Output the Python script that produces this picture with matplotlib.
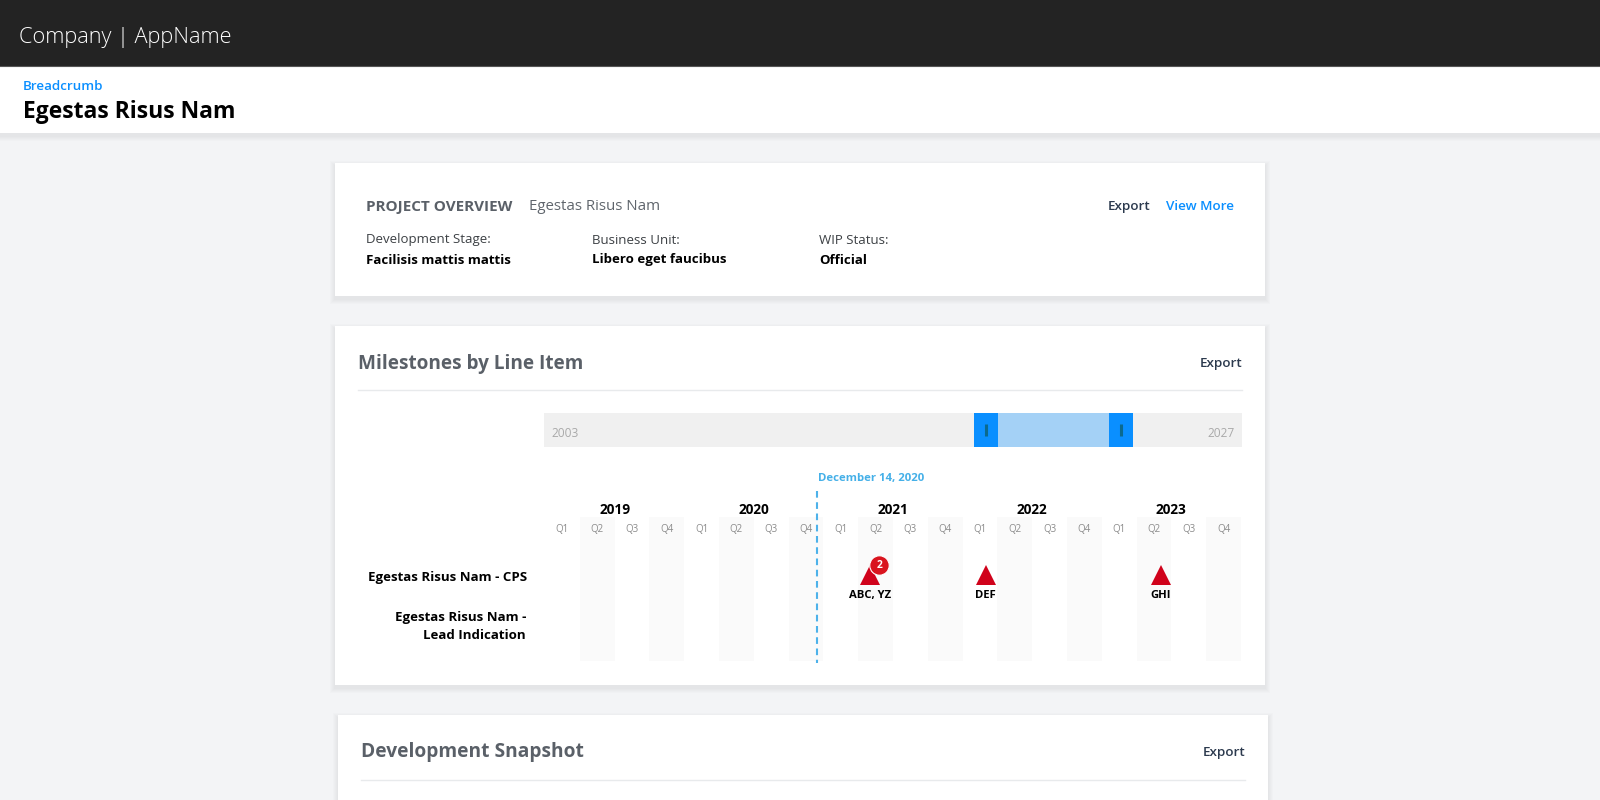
import matplotlib
matplotlib.use('Agg')
import matplotlib.pyplot as plt
from matplotlib.patches import Rectangle

plt.rcParams['font.family'] = ['Open Sans', 'DejaVu Sans']

# data
years = [2019, 2020, 2021, 2022, 2023]
quarters = ['Q1', 'Q2', 'Q3', 'Q4']
today_label = 'December 14, 2020'
today_pos = 7.82  # in quarters from start of 2019
range_start, range_end = 2003, 2027
sel_start, sel_end = 2018.2, 2022.83
milestone_pos = [9.33, 12.66, 17.7]
milestone_names = ['ABC, YZ', 'DEF', 'GHI']
milestone_counts = [2, 1, 1]
overview_labels = ['Development Stage:', 'Business Unit:', 'WIP Status:']
overview_values = ['Facilisis mattis mattis', 'Libero eget faucibus', 'Official']

W, H = 1600, 800
fig = plt.figure(figsize=(16, 8), dpi=100, facecolor='#F3F4F6')


def add_px_axes(x0, y0, x1, y1):
    return fig.add_axes([x0 / W, 1 - y1 / H, (x1 - x0) / W, (y1 - y0) / H])


ax = add_px_axes(0, 0, W, H)
ax.set_xlim(0, W)
ax.set_ylim(H, 0)
ax.axis('off')


def card(x0, y0, x1, y1, spread=5):
    # soft shadow, then the white box
    for i in range(spread, 0, -1):
        ax.add_patch(Rectangle((x0 - i, y0 - i + 3), x1 - x0 + 2 * i, y1 - y0 + 2 * i,
                               fc='black', ec='none', alpha=0.012, zorder=1))
    ax.add_patch(Rectangle((x0, y0), x1 - x0, y1 - y0, fc='white', ec='none', zorder=1))


def txt(x, y, s, size, color='black', weight='normal', ha='left'):
    ax.text(x, y + 1.5, s, fontsize=size, color=color, fontweight=weight, ha=ha, va='center', zorder=5)


# header
card(0, 60, W, 133)
ax.add_patch(Rectangle((0, 0), W, 66, fc='#232323', ec='none', zorder=2))
ax.plot([0, W], [66, 66], color='#555555', lw=0.8, zorder=3)
txt(19, 35.5, 'Company | AppName', 15.65, 'white', 'light')
txt(23, 84.5, 'Breadcrumb', 9.6, '#0A8FFF', 'semibold')
txt(23, 111, 'Egestas Risus Nam', 16.45, 'black', 'bold')

# project overview
card(335, 163, 1265, 296)
txt(366, 205, 'PROJECT OVERVIEW', 10.95, '#5A6068', 'bold')
txt(529, 205.5, 'Egestas Risus Nam', 10.85, '#5F656C')
txt(1150, 205, 'Export', 9.7, '#2C3A4E', 'semibold', 'right')
txt(1234, 205, 'View More', 9.7, '#0A8FFF', 'semibold', 'right')
for x, lab, val in zip([366, 592.5, 819], overview_labels, overview_values):
    txt(x, 238.5, lab, 9.55, '#3C4044')
    txt(x, 258.5, val, 9.5, 'black', 'bold')

# milestones card
card(335, 326, 1265, 685)
txt(358, 362, 'Milestones by Line Item', 13.65, '#5A6068', 'bold')
txt(1242, 362, 'Export', 9.7, '#2C3A4E', 'semibold', 'right')
ax.plot([358, 1242], [390, 390], color='#E8EAEC', lw=1, zorder=3)
txt(527.5, 575.5, 'Egestas Risus Nam - CPS', 9.55, 'black', 'bold', 'right')
txt(526, 616, 'Egestas Risus Nam -', 9.55, 'black', 'bold', 'right')
txt(526, 634, 'Lead Indication', 9.55, 'black', 'bold', 'right')

# development snapshot card, runs off the page
card(338, 715, 1268, 830)
txt(361, 751, 'Development Snapshot', 13.75, '#5A6068', 'bold')
txt(1245, 751, 'Export', 9.7, '#2C3A4E', 'semibold', 'right')
ax.plot([361, 1245], [780, 780], color='#E8EAEC', lw=1, zorder=3)

# range slider
ax_r = add_px_axes(544, 413, 1242, 447)
ax_r.set_xlim(range_start, range_end)
ax_r.set_ylim(0, 1)
ax_r.axis('off')
ax_r.axhspan(0, 1, color='#F0F0F0', lw=0)
ax_r.axvspan(sel_start, sel_end, color='#A4D1F6', lw=0)
for v in (sel_start, sel_end):
    ax_r.axvspan(v - 0.405, v + 0.405, color='#0A8FFF', lw=0, zorder=3)
    ax_r.plot([v, v], [0.31, 0.69], color='#0B6A8E', lw=2.2, zorder=4, solid_capstyle='butt')
ax_r.text(0.01, 0.39, str(range_start), transform=ax_r.transAxes, fontsize=8.6, color='#A9A9A9', va='center')
ax_r.text(0.99, 0.39, str(range_end), transform=ax_r.transAxes, fontsize=8.6, color='#A9A9A9', va='center', ha='right')

# timeline, x in quarters from start of 2019, y in row units of pixels
ax_t = add_px_axes(545, 480, 1241, 670)
ax_t.set_xlim(0, len(years) * 4)
ax_t.set_ylim(670, 480)
ax_t.axis('off')
ax_t.patch.set_alpha(0)

n = 0
for i, yr in enumerate(years):
    ax_t.text(i * 4 + 2, 510, str(yr), fontsize=9.8, fontweight='bold', ha='center', va='center')
    for j, q in enumerate(quarters):
        if n % 2 == 1:
            ax_t.add_patch(Rectangle((n, 517), 1, 144, fc='#FAFAFA', ec='none', zorder=0))
        ax_t.text(n + 0.5, 529, q, fontsize=7, color='#8C8C8C', ha='center', va='center', zorder=2)
        n += 1

ax_t.plot([today_pos, today_pos], [491, 663], color='#4DB2EA', lw=1.5, ls=(0, (3.2, 2.2)), zorder=3)
ax_t.text(today_pos + 0.03, 479, today_label, fontsize=8.2, color='#45B0E8', fontweight='bold',
          va='center', clip_on=False)

for p, name, c in zip(milestone_pos, milestone_names, milestone_counts):
    ax_t.plot([p], [575], marker='^', ms=14, color='#D0021B', mew=0, zorder=4, ls='none')
    ax_t.text(p, 595.5, name, fontsize=8.1, fontweight='bold', ha='center', va='center', zorder=5)
    if c > 1:
        ax_t.plot([p + 0.27], [564.5], marker='o', ms=14, color='#D9141E', mec='white', mew=0.8, zorder=6, ls='none')
        ax_t.text(p + 0.27, 565, str(c), fontsize=7.4, fontweight='bold', color='white', ha='center', va='center', zorder=7)

fig.savefig('out.png', dpi=100, facecolor=fig.get_facecolor())
